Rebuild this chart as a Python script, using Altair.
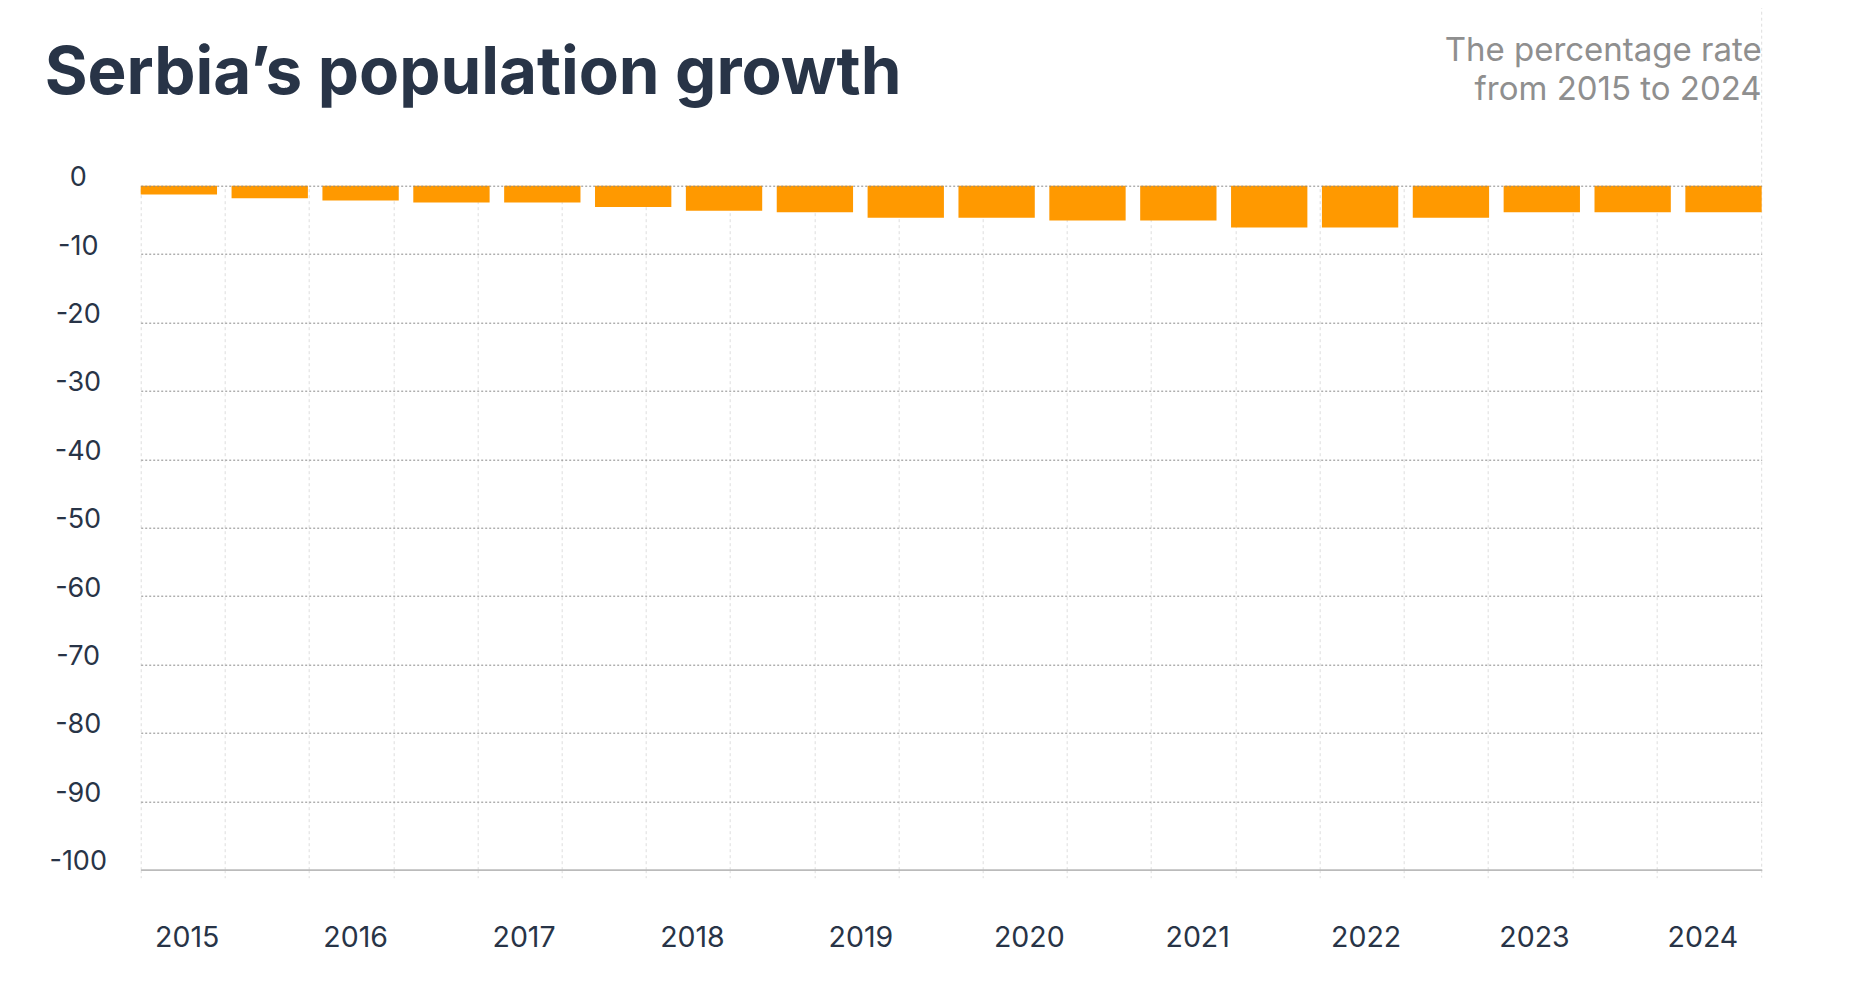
import altair as alt
import pandas as pd

# Data
periods = [f"{y}-H{h}" for y in range(2015, 2024) for h in (1, 2)]
values = [-1.3, -1.85, -2.15, -2.45, -2.45, -3.1, -3.65, -3.9, -4.7,
          -4.7, -5.1, -5.1, -6.1, -6.1, -4.7, -3.9, -3.9, -3.9]
years = list(range(2015, 2025))
y_ticks = list(range(-100, 1, 10))
title_text = "Serbia\u2019s population growth"
subtitle_lines = ["The percentage rate", "from 2015 to 2024"]

FONT = "Inter"
DARK = "#283447"
W, H = 1621, 684

bars_df = pd.DataFrame({"period": periods, "value": values})
years_df = pd.DataFrame({"year": years})
title_df = pd.DataFrame({"t": [title_text]})
sub_df = pd.DataFrame({"t": ["\n".join(subtitle_lines)]})

half_years = [y + h for y in years for h in (0.0, 0.5)][:-1]

bars = alt.Chart(bars_df).mark_bar(color="#FF9900").encode(
    x=alt.X("period:N", sort=periods, axis=None,
            scale=alt.Scale(paddingInner=0.16, paddingOuter=0)),
    y=alt.Y("value:Q", title=None,
            scale=alt.Scale(domain=[-100, 0], nice=False),
            axis=alt.Axis(values=y_ticks, grid=True,
                          gridColor={"condition": {"test": "datum.value === -100", "value": "#bbbbbb"}, "value": "#8a8a8a"},
                          gridDash={"condition": {"test": "datum.value === -100", "value": []}, "value": [2, 2]},
                          gridWidth={"condition": {"test": "datum.value === -100", "value": 1.5}, "value": 1},
                          domain=False,
                          ticks=False, tickSize=0, labelAlign="center",
                          labelExpr="datum.value + ''",
                          labelBaseline="alphabetic", labelPadding=63,
                          labelFont=FONT, labelFontSize=27,
                          labelColor=DARK, zindex=1)),
)

year_axis = alt.Chart(years_df).mark_rule(opacity=0).encode(
    x=alt.X("year:Q", title=None,
            scale=alt.Scale(domain=[2015, 2024.625], nice=False, zero=False),
            axis=alt.Axis(orient="bottom", values=half_years,
                          labelExpr="datum.value % 1 == 0 ? format(datum.value, 'd') : ''",
                          grid=True, gridColor="#dddddd", gridDash=[3, 3],
                          gridWidth=1, ticks=True, tickSize=8,
                          tickColor="#dddddd", tickDash=[3, 3],
                          domain=True, domainColor="#bbbbbb", domainWidth=1.5,
                          labelOffset=46, labelPadding=69,
                          labelBaseline="alphabetic", labelFont=FONT,
                          labelFontSize=28.5, labelColor=DARK,
                          labelFlush=False, labelOverlap=False)),
)

edge = alt.Chart(years_df.head(1)).mark_rule(
    color="#dddddd", strokeDash=[3, 3], strokeWidth=1
).encode(x=alt.value(W), y=alt.value(-186), y2=alt.value(H + 8))

title = alt.Chart(title_df).mark_text(
    align="left", baseline="alphabetic", font=FONT, fontSize=65.5,
    fontWeight="bold", color=DARK
).encode(text="t:N", x=alt.value(-96), y=alt.value(-91.5))

subtitle = alt.Chart(sub_df).mark_text(
    align="right", baseline="alphabetic", font=FONT, fontSize=33,
    color="#8f8f8f", lineBreak="\n", lineHeight=39
).encode(text="t:N", x=alt.value(W), y=alt.value(-124.7))

chart = alt.layer(edge, year_axis, bars, title, subtitle).resolve_scale(
    x="independent"
).properties(
    width=W, height=H,
    autosize=alt.AutoSizeParams(type="none"),
    padding={"left": 132.7, "top": 177.7, "right": 60, "bottom": 100},
).configure_view(stroke=None)

chart.save("out.html", embed_options={"renderer": "svg", "actions": False})
